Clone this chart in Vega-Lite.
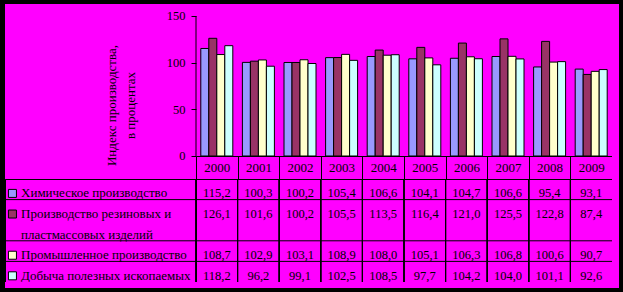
{
  "$schema": "https://vega.github.io/schema/vega-lite/v6.json",
  "background": "black",
  "padding": {"left": 4, "top": 4, "right": 5, "bottom": 4},
  "columns": 3,
  "spacing": 0,
  "bounds": "flush",
  "align": "each",
  "datasets": {
    "values": [
      {"year": "2000", "series": "Химическое производство", "value": 115.2},
      {"year": "2001", "series": "Химическое производство", "value": 100.3},
      {"year": "2002", "series": "Химическое производство", "value": 100.2},
      {"year": "2003", "series": "Химическое производство", "value": 105.4},
      {"year": "2004", "series": "Химическое производство", "value": 106.6},
      {"year": "2005", "series": "Химическое производство", "value": 104.1},
      {"year": "2006", "series": "Химическое производство", "value": 104.7},
      {"year": "2007", "series": "Химическое производство", "value": 106.6},
      {"year": "2008", "series": "Химическое производство", "value": 95.4},
      {"year": "2009", "series": "Химическое производство", "value": 93.1},
      {"year": "2000", "series": "Производство резиновых и пластмассовых изделий", "value": 126.1},
      {"year": "2001", "series": "Производство резиновых и пластмассовых изделий", "value": 101.6},
      {"year": "2002", "series": "Производство резиновых и пластмассовых изделий", "value": 100.2},
      {"year": "2003", "series": "Производство резиновых и пластмассовых изделий", "value": 105.5},
      {"year": "2004", "series": "Производство резиновых и пластмассовых изделий", "value": 113.5},
      {"year": "2005", "series": "Производство резиновых и пластмассовых изделий", "value": 116.4},
      {"year": "2006", "series": "Производство резиновых и пластмассовых изделий", "value": 121.0},
      {"year": "2007", "series": "Производство резиновых и пластмассовых изделий", "value": 125.5},
      {"year": "2008", "series": "Производство резиновых и пластмассовых изделий", "value": 122.8},
      {"year": "2009", "series": "Производство резиновых и пластмассовых изделий", "value": 87.4},
      {"year": "2000", "series": "Промышленное производство", "value": 108.7},
      {"year": "2001", "series": "Промышленное производство", "value": 102.9},
      {"year": "2002", "series": "Промышленное производство", "value": 103.1},
      {"year": "2003", "series": "Промышленное производство", "value": 108.9},
      {"year": "2004", "series": "Промышленное производство", "value": 108.0},
      {"year": "2005", "series": "Промышленное производство", "value": 105.1},
      {"year": "2006", "series": "Промышленное производство", "value": 106.3},
      {"year": "2007", "series": "Промышленное производство", "value": 106.8},
      {"year": "2008", "series": "Промышленное производство", "value": 100.6},
      {"year": "2009", "series": "Промышленное производство", "value": 90.7},
      {"year": "2000", "series": "Добыча полезных ископаемых", "value": 118.2},
      {"year": "2001", "series": "Добыча полезных ископаемых", "value": 96.2},
      {"year": "2002", "series": "Добыча полезных ископаемых", "value": 99.1},
      {"year": "2003", "series": "Добыча полезных ископаемых", "value": 102.5},
      {"year": "2004", "series": "Добыча полезных ископаемых", "value": 108.5},
      {"year": "2005", "series": "Добыча полезных ископаемых", "value": 97.7},
      {"year": "2006", "series": "Добыча полезных ископаемых", "value": 104.2},
      {"year": "2007", "series": "Добыча полезных ископаемых", "value": 104.0},
      {"year": "2008", "series": "Добыча полезных ископаемых", "value": 101.1},
      {"year": "2009", "series": "Добыча полезных ископаемых", "value": 92.6}
    ],
    "series": [
      {"series": "Химическое производство"},
      {"series": "Производство резиновых и пластмассовых изделий"},
      {"series": "Промышленное производство"},
      {"series": "Добыча полезных ископаемых"}
    ],
    "rowlines": [
      {"row": "Производство резиновых и пластмассовых изделий"},
      {"row": "Промышленное производство"},
      {"row": "Добыча полезных ископаемых"}
    ],
    "labels": [
      {"row": "Химическое производство", "text": "Химическое производство"},
      {"row": "Производство резиновых и пластмассовых изделий", "text": "Производство резиновых и"},
      {"row": "…", "text": "пластмассовых изделий"},
      {"row": "Промышленное производство", "text": "Промышленное производство"},
      {"row": "Добыча полезных ископаемых", "text": "Добыча полезных ископаемых"}
    ],
    "blank": [{}]
  },
  "concat": [
    {
      "width": 191, "height": 175,
      "data": {"name": "blank"},
      "mark": {"type": "rect", "color": "#FF00FF"},
      "encoding": {}
    },
    {
      "width": 416, "height": 175,
      "layer": [
        {
          "data": {"name": "values"},
          "mark": {"type": "bar", "stroke": "black", "strokeWidth": 1},
          "encoding": {
            "x": {
              "field": "year", "type": "nominal",
              "scale": {"paddingInner": 0, "paddingOuter": 0},
              "axis": {
                "orient": "bottom", "offset": -23, "title": null,
                "domain": true, "domainColor": "black",
                "ticks": true, "tickBand": "extent", "tickSize": 23, "tickColor": "black",
                "labelAngle": 0, "labelBaseline": "middle", "labelPadding": -11.5,
                "labelFontSize": 13, "grid": false
              }
            },
            "xOffset": {
              "field": "series", "type": "nominal",
              "scale": {
                "domain": ["Химическое производство", "Производство резиновых и пластмассовых изделий", "Промышленное производство", "Добыча полезных ископаемых"],
                "paddingInner": 0, "paddingOuter": 0.6
              }
            },
            "y": {
              "field": "value", "type": "quantitative",
              "scale": {"domain": [-24.643, 162.857], "nice": false, "zero": false},
              "axis": {
                "values": [0, 50, 100, 150], "domain": false,
                "ticks": true, "tickSize": 5, "tickColor": "black",
                "labelFontSize": 12.5, "labelPadding": 6, "grid": false,
                "title": ["Индекс производства,", "в процентах"],
                "titleFontSize": 13, "titlePadding": 29, "titleY": 101, "titleLineHeight": 19
              }
            },
            "color": {
              "field": "series", "type": "nominal",
              "scale": {
                "domain": ["Химическое производство", "Производство резиновых и пластмассовых изделий", "Промышленное производство", "Добыча полезных ископаемых"],
                "range": ["#9999FF", "#993366", "#FFFFCC", "#CCFFFF"]
              },
              "legend": null
            }
          }
        },
        {
          "data": {"name": "blank"},
          "mark": {"type": "rule", "color": "black"},
          "encoding": {
            "x": {"datum": "2000", "type": "nominal", "bandPosition": 0},
            "y": {"datum": 0, "type": "quantitative"},
            "y2": {"datum": 150}
          }
        }
      ]
    },
    {
      "width": 7, "height": 175,
      "data": {"name": "blank"},
      "mark": {"type": "rect", "color": "#FF00FF"},
      "encoding": {}
    },
    {
      "width": 191, "height": 103,
      "view": {"stroke": "black"},
      "layer": [
        {
          "data": {"name": "rowlines"},
          "mark": {"type": "rule", "color": "black"},
          "encoding": {
            "y": {
              "field": "row", "type": "nominal", "bandPosition": 0,
              "scale": {
                "domain": ["Химическое производство", "Производство резиновых и пластмассовых изделий", "…", "Промышленное производство", "Добыча полезных ископаемых"],
                "paddingInner": 0, "paddingOuter": 0
              },
              "axis": null
            }
          }
        },
        {
          "data": {"name": "series"},
          "mark": {"type": "square", "size": 64, "filled": true, "opacity": 1, "stroke": "black", "strokeWidth": 1},
          "encoding": {
            "x": {"datum": "Показатель", "type": "nominal", "bandPosition": 0.039, "scale": {"type": "band", "paddingInner": 0, "paddingOuter": 0}, "axis": null},
            "y": {"field": "series", "type": "nominal", "bandPosition": 0.7},
            "color": {"field": "series", "type": "nominal", "legend": null}
          }
        },
        {
          "data": {"name": "labels"},
          "mark": {"type": "text", "align": "left", "baseline": "middle", "fontSize": 13, "color": "black"},
          "encoding": {
            "x": {"datum": "Показатель", "type": "nominal", "bandPosition": 0.084},
            "y": {"field": "row", "type": "nominal", "bandPosition": 0.7},
            "text": {"field": "text"}
          }
        }
      ]
    },
    {
      "width": 416, "height": 103,
      "view": {"stroke": "black"},
      "layer": [
        {
          "data": {"name": "values"},
          "mark": {"type": "rule", "color": "black"},
          "encoding": {
            "x": {
              "field": "year", "type": "nominal", "bandPosition": 0,
              "scale": {"type": "band", "paddingInner": 0, "paddingOuter": 0},
              "axis": null
            }
          }
        },
        {
          "data": {"name": "rowlines"},
          "mark": {"type": "rule", "color": "black"},
          "encoding": {
            "y": {
              "field": "row", "type": "nominal", "bandPosition": 0,
              "scale": {
                "domain": ["Химическое производство", "Производство резиновых и пластмассовых изделий", "…", "Промышленное производство", "Добыча полезных ископаемых"],
                "paddingInner": 0, "paddingOuter": 0
              },
              "axis": null
            }
          }
        },
        {
          "data": {"name": "values"},
          "mark": {"type": "text", "align": "center", "baseline": "middle", "fontSize": 12.5, "color": "black"},
          "encoding": {
            "x": {"field": "year", "type": "nominal"},
            "y": {"field": "series", "type": "nominal", "bandPosition": 0.7},
            "text": {"field": "value", "type": "quantitative", "format": ".1f"}
          }
        }
      ]
    },
    {
      "width": 7, "height": 103,
      "data": {"name": "blank"},
      "mark": {"type": "rect", "color": "#FF00FF"},
      "encoding": {}
    },
    {
      "width": 191, "height": 6,
      "data": {"name": "blank"},
      "mark": {"type": "rect", "color": "#FF00FF"},
      "encoding": {}
    },
    {
      "width": 416, "height": 6,
      "data": {"name": "blank"},
      "mark": {"type": "rect", "color": "#FF00FF"},
      "encoding": {}
    },
    {
      "width": 7, "height": 6,
      "data": {"name": "blank"},
      "mark": {"type": "rect", "color": "#FF00FF"},
      "encoding": {}
    }
  ],
  "config": {
    "view": {"fill": "#FF00FF", "stroke": null},
    "font": "Liberation Serif",
    "axis": {"labelColor": "black", "titleColor": "black", "labelFont": "Liberation Serif", "titleFont": "Liberation Serif", "titleFontWeight": "normal"},
    "text": {"font": "Liberation Serif"},
    "locale": {"number": {"decimal": ",", "thousands": " ", "grouping": [3], "currency": ["", ""]}}
  }
}
